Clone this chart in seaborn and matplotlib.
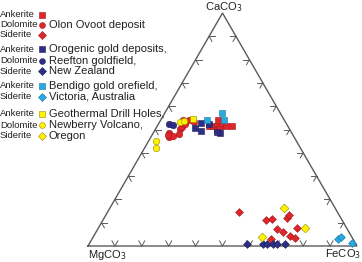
import numpy as np
import pandas as pd
import seaborn as sns
import matplotlib.pyplot as plt

# compositions in mol %: CaCO3 and FeCO3, MgCO3 = rest
olon_ank_ca = [51.5, 51.5, 51.5, 51.5, 51.5, 51.5, 54.1, 49.8, 50.1]
olon_ank_fe = [19.3, 20.8, 22.3, 23.8, 25.6, 27.8, 21.2, 22.9, 23.8]
olon_dol_ca = [54.1, 54.1, 53.3, 50.1, 50.9, 48.1, 48.6, 46.7, 47.2, 47.8, 52.4]
olon_dol_fe = [8.4, 10.5, 12.8, 9.2, 9.5, 9.9, 5.8, 6.9, 7.9, 5.8, 9.9]
olon_sid_ca = [14.7, 11.0, 11.6, 12.2, 13.3, 7.2, 6.1, 7.9, 4.4, 3.4, 3.0]
olon_sid_fe = [48.9, 60.7, 62.6, 68.0, 68.2, 66.8, 69.3, 73.9, 72.9, 75.1, 66.4]

reef_ank_ca = [52.7, 50.5, 49.5, 52.4, 48.6, 49.1]
reef_ank_fe = [15.5, 14.5, 17.2, 18.9, 24.8, 23.3]
reef_dol_ca = [52.4, 51.8]
reef_dol_fe = [4.0, 5.6]
reef_sid_ca = [0.7, 0.7, 0.7, 0.7, 0.7, 0.7]
reef_sid_fe = [58.7, 64.8, 66.3, 68.3, 70.0, 73.0]

bend_ank_ca = [57.2, 54.1, 54.0]
bend_ank_fe = [21.2, 17.3, 23.6]
bend_sid_ca = [2.9, 3.7, 1.2]
bend_sid_fe = [91.6, 92.1, 97.4]

newb_ank_ca = [54.4]
newb_ank_fe = [11.7]
newb_dol_ca = [45.2, 42.2, 53.2, 53.7]
newb_dol_fe = [2.7, 4.2, 7.6, 8.8]
newb_sid_ca = [16.4, 7.9, 3.7]
newb_sid_fe = [64.7, 76.6, 62.7]

W, H = 362, 262
# triangle corners in pixels: MgCO3 (88,246), FeCO3 (357,246), side 269 px
X0, Y0, SIDE = 88, 246, 269
TH = np.sqrt(3) / 2


def tern(ca, fe):
    ca = np.asarray(ca) / 100.0
    fe = np.asarray(fe) / 100.0
    return fe + ca / 2, ca * TH


def px(x, y):
    return x / W, 1 - y / H


fig = plt.figure(figsize=(W / 100, H / 100), dpi=100)
ax = fig.add_axes([0, 0, 1, 1])
ax.set_xlim(-X0 / SIDE, (W - X0) / SIDE)
ax.set_ylim(-(H - Y0) / SIDE, Y0 / SIDE)
ax.axis('off')

edge = '#5a5a5a'
corners = np.array([[0, 0], [1, 0], [0.5, TH], [0, 0]])
ax.plot(corners[:, 0], corners[:, 1], color=edge, lw=1.0, solid_joinstyle='miter')

# chevron ticks every 10 %
arm = 0.022
for k in range(1, 10):
    t = k / 10
    bx, by = t, 0
    for a in (60, 120):
        ax.plot([bx, bx + arm * np.cos(np.radians(a))], [by, by + arm * np.sin(np.radians(a))],
                color=edge, lw=0.7)
    lx, ly = 0.5 * t, TH * t
    for a in (0, -60):
        ax.plot([lx, lx + arm * np.cos(np.radians(a))], [ly, ly + arm * np.sin(np.radians(a))],
                color=edge, lw=0.7)
    rx, ry = 1 - 0.5 * t, TH * t
    for a in (180, 240):
        ax.plot([rx, rx + arm * np.cos(np.radians(a))], [ry, ry + arm * np.sin(np.radians(a))],
                color=edge, lw=0.7)

red, red_e = '#e0262b', '#9c1a1d'
navy, navy_e = '#2d2f86', '#1c1d55'
lblue, lblue_e = '#27a9e1', '#1a76a0'
yel, yel_e = '#fff200', '#9a8c00'

series = [
    (olon_ank_ca, olon_ank_fe, 's', red, red_e, 20),
    (olon_dol_ca, olon_dol_fe, 'o', red, red_e, 22),
    (olon_sid_ca, olon_sid_fe, 'D', red, red_e, 16),
    (reef_ank_ca, reef_ank_fe, 's', navy, navy_e, 20),
    (reef_dol_ca, reef_dol_fe, 'o', navy, navy_e, 22),
    (reef_sid_ca, reef_sid_fe, 'D', navy, navy_e, 16),
    (bend_ank_ca, bend_ank_fe, 's', lblue, lblue_e, 20),
    (bend_sid_ca, bend_sid_fe, 'D', lblue, lblue_e, 16),
    (newb_dol_ca, newb_dol_fe, 'o', yel, yel_e, 22),
    (newb_ank_ca, newb_ank_fe, 's', yel, yel_e, 20),
    (newb_sid_ca, newb_sid_fe, 'D', yel, yel_e, 20),
]
for ca, fe, m, c, ec, s in series:
    x, y = tern(ca, fe)
    df = pd.DataFrame({'x': x, 'y': y})
    sns.scatterplot(data=df, x='x', y='y', marker=m, color=c, edgecolor=ec,
                    linewidth=0.4, s=s, ax=ax, zorder=3)

txt = '#231f20'
fsc = 8.0
fig.text(*px(224, 10.5), 'CaCO$_3$', ha='center', va='baseline', fontsize=fsc,
         color=txt, family='Liberation Sans')
fig.text(*px(88, 257.5), 'MgCO$_3$', ha='left', va='baseline', fontsize=fsc,
         color=txt, family='Liberation Sans')
fig.text(*px(361, 257.5), 'FeCO$_3$', ha='right', va='baseline', fontsize=fsc,
         color=txt, family='Liberation Sans')

# legend block on the left
rows = [
    (14.5, 'Ankerite', 's', red, red_e, ''),
    (24.5, 'Dolomite', 'o', red, red_e, 'Olon Ovoot deposit'),
    (34.5, 'Siderite', 'D', red, red_e, ''),
    (49.0, 'Ankerite', 's', navy, navy_e, 'Orogenic gold deposits,'),
    (60.5, 'Dolomite', 'o', navy, navy_e, 'Reefton goldfield,'),
    (71.0, 'Siderite', 'D', navy, navy_e, 'New Zealand'),
    (86.0, 'Ankerite', 's', lblue, lblue_e, 'Bendigo gold orefield,'),
    (96.5, 'Siderite', 'D', lblue, lblue_e, 'Victoria, Australia'),
    (114.0, 'Ankerite', 's', yel, yel_e, 'Geothermal Drill Holes,'),
    (125.0, 'Dolomite', 'o', yel, yel_e, 'Newberry Volcano,'),
    (136.0, 'Siderite', 'D', yel, yel_e, 'Oregon'),
]
for y, name, m, c, ec, grp in rows:
    fig.text(*px(0, y), name, ha='left', va='center', fontsize=6.8, color=txt,
             family='Liberation Sans')
    ax.plot(*px(41.5, y), marker=m, ms=4.2 if m != 'D' else 3.8, color=c, mec=ec,
            mew=0.4, transform=fig.transFigure, clip_on=False)
    if grp:
        fig.text(*px(49, y), grp, ha='left', va='center', fontsize=8.0, color=txt,
                 family='Liberation Sans')

fig.savefig('out.png', dpi=100)
